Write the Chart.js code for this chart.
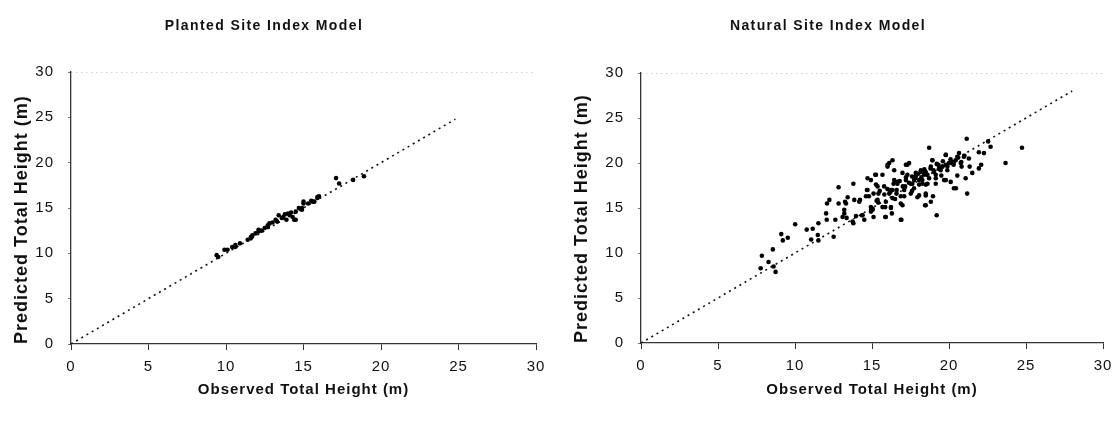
<!DOCTYPE html>
<html>
<head>
<meta charset="utf-8">
<script src="https://cdn.jsdelivr.net/npm/chart.js@4.4.0/dist/chart.umd.min.js"></script>
<style>
  html, body { margin: 0; padding: 0; background: #fff; }
  body { width: 1120px; height: 423px; position: relative; overflow: hidden; }
  .panel { position: absolute; top: 0; width: 560px; height: 423px; }
  .panel canvas { position: absolute; left: 0; top: 0; }
  .title {
    position: absolute; top: 17px; transform: translateX(-50%);
    font-family: 'Liberation Sans', Arial, sans-serif;
    font-weight: bold; font-size: 14px; letter-spacing: 1.4px; white-space: nowrap; color: #111;
  }
</style>
</head>
<body>
<div class="panel" style="left:0">
  <canvas id="planted" width="560" height="423"></canvas>
  <div class="title" style="left:264px">Planted Site Index Model</div>
</div>
<div class="panel" style="left:560px">
  <canvas id="natural" width="560" height="423"></canvas>
  <div class="title" style="left:268px">Natural Site Index Model</div>
</div>
<script>
// tick values shared by both axes of both charts
const axisTicks = [0, 5, 10, 15, 20, 25, 30];

// planted model: observed vs predicted (m)
const plantedObs = [9.4, 9.5, 9.9, 10.1, 10.4, 10.6, 10.6, 10.9, 11.4, 11.6,
  11.6, 11.7, 11.9, 12.1, 12.1, 12.3, 12.5, 12.7, 12.7, 12.8,
  13.0, 13.2, 13.3, 13.4, 13.6, 13.7, 13.8, 13.9, 14.0, 14.1,
  14.2, 14.3, 14.4, 14.5, 14.5, 14.7, 14.9, 14.9, 15.0, 15.0,
  15.3, 15.5, 15.6, 15.7, 15.9, 15.9, 16.0, 17.1, 17.3, 18.2, 18.9];
const plantedPred = [9.8, 9.6, 10.4, 10.4, 10.7, 10.9, 10.7, 11.1, 11.5, 11.65,
  11.8, 12.0, 12.2, 12.6, 12.4, 12.5, 12.8, 12.9, 13.1, 13.3,
  13.4, 13.7, 13.5, 14.2, 13.9, 14.0, 14.3, 13.7, 14.4, 14.2,
  14.5, 14.0, 13.7, 14.6, 13.7, 15.0, 15.0, 14.8, 15.7, 15.5,
  15.5, 15.8, 15.7, 15.7, 16.2, 16.1, 16.3, 18.3, 17.7, 18.1, 18.5];

// natural model: observed vs predicted (m)
const naturalObs = [7.77, 7.85, 8.28, 8.56, 8.61, 8.74, 9.11, 9.21, 9.53, 10.01,
  10.76, 11.05, 11.15, 11.48, 11.52, 11.52, 12.02, 12.06, 12.08, 12.23,
  12.51, 12.62, 12.83, 12.83, 13.2, 13.25, 13.35, 13.42, 13.79, 13.79,
  13.96, 14.22, 14.35, 14.61, 14.67, 14.71, 14.93, 15.04, 15.1, 15.21,
  15.26, 15.36, 15.42, 15.68, 15.79, 15.86, 15.86, 16.01, 16.12, 16.23,
  16.23, 16.29, 16.33, 16.44, 16.44, 16.59, 16.65,
  16.87, 16.98, 17.09, 17.15, 17.2, 17.3, 17.41, 17.52, 17.73, 17.84,
  17.95, 18.06, 18.17, 18.27, 18.38, 18.45, 18.49, 18.6, 18.71, 18.82,
  18.92, 18.96, 19.14, 19.2, 19.31, 19.46, 19.57, 19.68, 19.79, 19.89,
  20.0, 20.11, 20.21, 20.32, 20.43, 20.54, 20.65, 20.76, 20.82, 20.97,
  21.08, 21.15, 21.18, 21.29, 21.34, 21.51, 21.94, 21.94, 22.09, 22.27, 22.54, 22.7, 23.67, 24.74,
  16.01, 17.3, 16.98, 18.17, 18.49, 15.26, 14.93, 14.71, 15.36, 16.33,
  16.65, 17.2, 17.62, 17.84, 18.06, 18.38, 18.71, 19.03, 19.35, 19.57,
  19.79, 20.11, 20.32, 20.54, 19.79, 18.92, 16.12, 16.33, 15.9, 16.87,
  17.09, 17.52, 18.06, 18.49, 18.82, 19.14, 15.68, 15.04, 14.93, 14.39,
  14.17, 13.85, 13.31, 13.2, 13.09, 13.74, 14.5, 15.9, 16.23, 16.91,
  16.87, 18.49, 20.45, 19.79, 19.14, 17.73, 18.27,
  14.8, 15.1, 15.3, 15.5, 15.8, 16.0, 16.2, 16.4, 16.6, 16.8,
  17.0, 17.2, 17.4, 17.6, 17.8, 18.0, 18.2, 18.4, 18.6, 18.8,
  19.0, 19.2, 19.4, 19.6, 19.9, 20.1, 20.3, 20.6, 20.8, 21.0,
  15.4, 16.5, 17.6, 18.5, 19.5];
const naturalPred = [8.3, 9.7, 9.0, 10.4, 8.5, 7.9, 12.1, 11.4, 11.7, 13.2,
  12.6, 11.5, 12.7, 12.0, 13.3, 11.4, 14.4, 13.7, 15.5, 15.9,
  11.8, 13.7, 17.3, 15.5, 14.4, 15.7, 13.9, 16.2, 17.7, 13.3,
  14.1, 15.9, 14.2, 16.3, 17.0, 18.3, 15.1, 14.8, 14.0, 18.7,
  17.6, 15.9, 16.6, 18.7, 17.4, 15.1, 14.0, 19.8, 20.0, 17.0,
  15.1, 14.4, 20.3, 19.2, 18.1, 16.6, 17.7,
  13.7, 15.3, 16.3, 17.4, 19.8, 18.7, 20.0, 17.7, 18.1, 18.9,
  16.2, 17.6, 19.2, 18.1, 18.9, 15.3, 16.4, 17.7, 21.7, 19.6,
  20.3, 16.3, 18.7, 14.2, 19.8, 19.2, 19.6, 18.1, 20.9, 19.2,
  20.0, 17.9, 20.1, 17.2, 20.3, 18.6, 21.1, 20.0, 19.6, 20.7,
  18.3, 22.7, 16.6, 20.5, 19.6, 18.9, 21.2, 19.4, 19.8, 21.1, 22.4, 21.8, 20.0, 21.7,
  19.6, 19.8, 18.9, 19.0, 19.0, 18.7, 18.1, 17.0, 17.4, 17.0,
  17.9, 18.1, 17.7, 18.5, 18.1, 18.7, 18.3, 19.0, 19.4, 19.6,
  19.8, 20.0, 20.1, 20.7, 20.9, 20.3, 16.6, 16.1, 15.7, 16.3,
  17.0, 16.6, 16.4, 16.6, 15.7, 18.3, 15.1, 14.9, 14.6, 14.2,
  15.7, 15.9, 15.5, 14.8, 14.0, 13.5, 13.7, 14.0, 15.0, 13.7,
  15.5, 15.3, 17.2, 18.1, 17.7, 17.2, 17.7,
  16.3, 16.6, 15.8, 16.9, 16.5, 17.1, 16.8, 17.7, 17.0, 18.0,
  17.4, 18.4, 17.8, 18.5, 18.3, 18.8, 18.4, 19.3, 18.7, 19.4,
  19.2, 19.9, 19.3, 20.2, 19.6, 20.4, 19.8, 20.6, 20.1, 20.8,
  15.6, 16.0, 16.9, 17.6, 18.6];

// 1:1 reference lines (start and end)
const plantedLine = [0, 24.8];
const naturalLine = [0, 28];

const fontFamily = "'Liberation Sans', Arial, sans-serif";

function pairs(xs, ys) {
  return xs.map((x, i) => ({ x: x, y: ys[i] }));
}

// chart.js has no letter spacing option, so set it on the context
const spacing = {
  id: 'spacing',
  beforeDraw(chart) { chart.ctx.letterSpacing = '1px'; }
};

function scatterChart(id, obs, pred, line, box) {
  return new Chart(document.getElementById(id), {
    type: 'scatter',
    data: {
      datasets: [{
        data: pairs(obs, pred),
        pointRadius: 2.3,
        pointBackgroundColor: '#000',
        pointBorderWidth: 0
      }, {
        data: pairs(line, line),
        showLine: true,
        borderColor: '#111',
        borderWidth: 1.6,
        borderDash: [2, 4],
        pointRadius: 0
      }]
    },
    options: {
      responsive: false,
      animation: false,
      layout: { padding: { top: box.top, right: box.right, bottom: 0, left: 0 } },
      plugins: { legend: { display: false }, tooltip: { enabled: false } },
      scales: {
        x: {
          type: 'linear', min: 0, max: 30,
          afterBuildTicks: s => { s.ticks = axisTicks.map(v => ({ value: v })); },
          afterFit: s => { s.height = box.bottom; },
          grid: { drawOnChartArea: false, tickLength: 6, tickColor: '#333' },
          border: { color: '#333', width: 1.3 },
          ticks: { color: '#111', font: { family: fontFamily, size: 15 }, padding: 8, maxRotation: 0 },
          title: {
            display: true, text: 'Observed Total Height (m)', color: '#111',
            font: { family: fontFamily, size: 15, weight: 'bold' },
            padding: { top: 0, bottom: 24 }
          }
        },
        y: {
          type: 'linear', min: 0, max: 30,
          afterBuildTicks: s => { s.ticks = axisTicks.map(v => ({ value: v })); },
          afterFit: s => { s.width = box.left; },
          grid: {
            color: c => c.tick && c.tick.value === 30 ? '#bdbdbd' : 'rgba(0,0,0,0)',
            tickLength: 3, tickColor: '#777'
          },
          border: { color: '#333', width: 1.3, dash: [1, 4] },
          ticks: { color: '#111', font: { family: fontFamily, size: 15 }, padding: 14 },
          title: {
            display: true, text: 'Predicted Total Height (m)', color: '#111', align: 'start',
            font: { family: fontFamily, size: 18, weight: 'bold' },
            padding: { top: 11, bottom: 0 }
          }
        }
      }
    },
    plugins: [spacing]
  });
}

scatterChart('planted', plantedObs, plantedPred, plantedLine, { top: 72, right: 24, bottom: 79, left: 71 });
scatterChart('natural', naturalObs, naturalPred, naturalLine, { top: 73, right: 17, bottom: 80, left: 81 });
</script>
</body>
</html>
